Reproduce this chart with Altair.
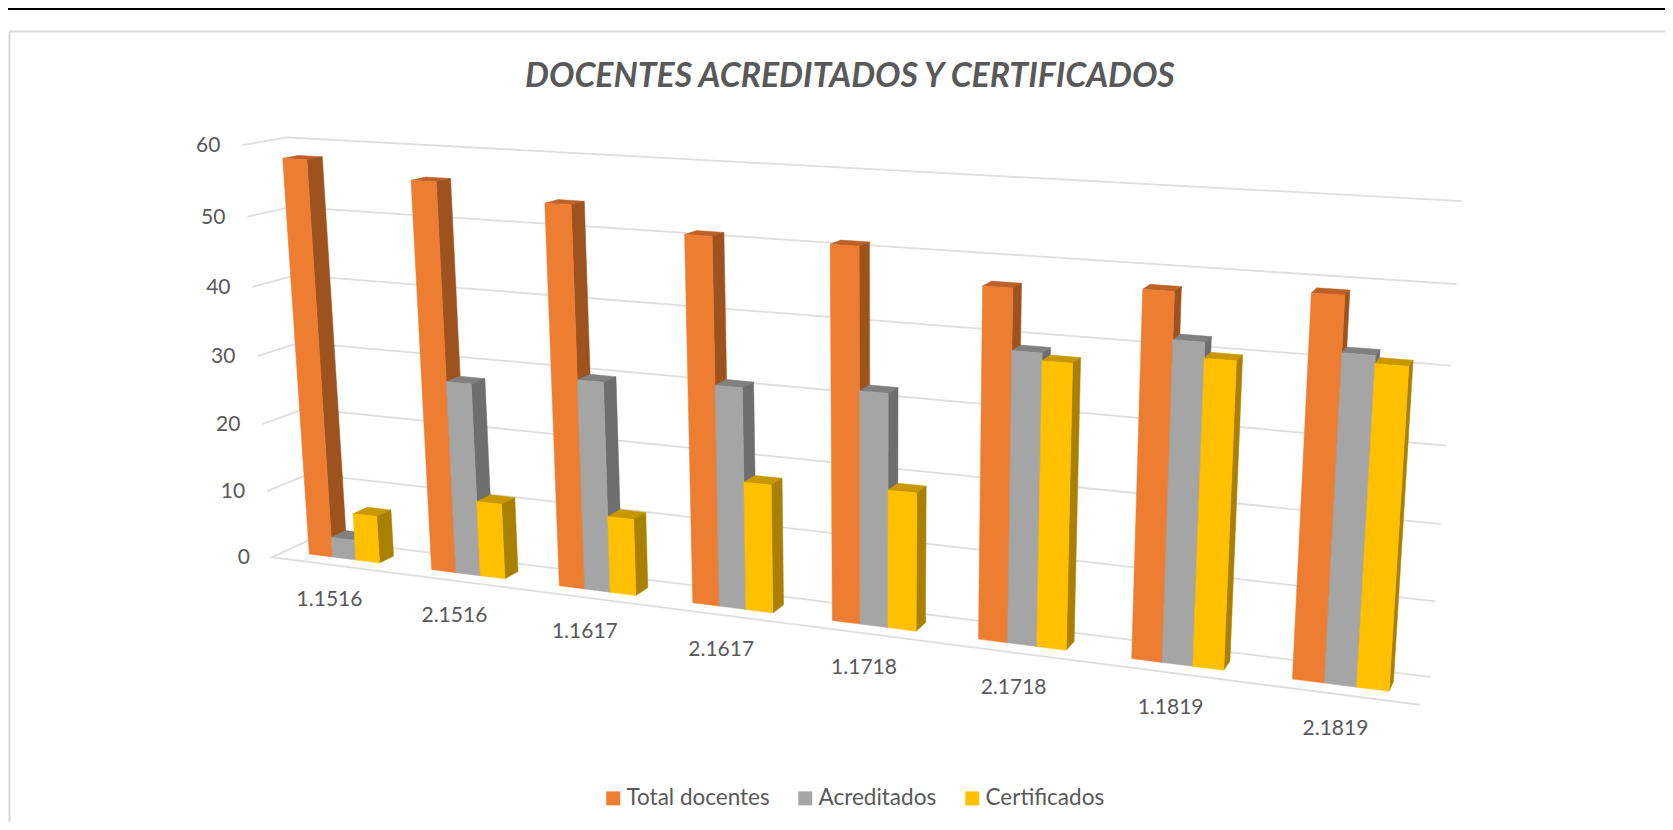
import altair as alt
import pandas as pd

titulo = "DOCENTES ACREDITADOS Y CERTIFICADOS"
periodos = ["1.1516", "2.1516", "1.1617", "2.1617", "1.1718", "2.1718", "1.1819", "2.1819"]
total = [58, 56, 54, 51, 51, 47, 48, 49]
acreditados = [3, 28, 30, 31, 32, 39, 42, 42]
certificados = [7, 11, 11, 18, 19, 38, 40, 41]
ticks = [0, 10, 20, 30, 40, 50, 60]

series = ["Total docentes", "Acreditados", "Certificados"]
valores = [total, acreditados, certificados]
front_col = ["#ED7D31", "#A5A5A5", "#FFC000"]
side_col = ["#9E531F", "#6E6E6E", "#AA8000"]
top_col = ["#BD6127", "#808080", "#C99700"]
GRID = "#DEDEDE"
TXT = "#595959"
FONT = "Lato"

BAR_W = 0.193
U_LEFT, U_RIGHT = -0.2, 7.78
D_FRONT, D_BACK = -0.9, 1.9


def project(u, d, z):
    """Perspective projection of (category position, depth, value) on the picture."""
    m, k = 0.01027, -0.000766
    X = 309.3 + 113.25 * u + d * m * 1748 + z * k * 881
    Y = 554.0 + 3.57 * u - d * m * 120 + z * k * 9064
    W = 1 - 0.02104 * u + d * m + z * k
    return X / W, Y / W


def polygon_rows(pid, corners, serie):
    pts = corners + corners[:1]
    rows = []
    for i, c in enumerate(pts):
        x, y = project(*c)
        rows.append({"pid": pid, "i": i, "x": x, "y": y, "serie": serie})
    return rows


front, side, top = [], [], []
for s, vals in enumerate(valores):
    sd, tp = [], []
    for c, v in enumerate(vals):
        u0 = c + s * BAR_W
        u1 = u0 + BAR_W
        front += polygon_rows(f"f{s}{c}", [(u0, 0, 0), (u1, 0, 0), (u1, 0, v), (u0, 0, v)], series[s])
        sd += polygon_rows(f"s{s}{c}", [(u1, 0, 0), (u1, 1, 0), (u1, 1, v), (u1, 0, v)], series[s])
        tp += polygon_rows(f"t{s}{c}", [(u0, 0, v), (u1, 0, v), (u1, 1, v), (u0, 1, v)], series[s])
    side.append(pd.DataFrame(sd))
    top.append(pd.DataFrame(tp))
front = pd.DataFrame(front)

grid_rows = []
for t in ticks:
    path = [(U_LEFT, D_FRONT, t), (U_LEFT, D_BACK, t), (U_RIGHT, D_BACK, t)]
    if t == 0:
        path = [(U_RIGHT, D_FRONT, t)] + path
    for i, c in enumerate(path):
        x, y = project(*c)
        grid_rows.append({"pid": t, "i": i, "x": x, "y": y})
grid = pd.DataFrame(grid_rows)

tick_rows = []
for t in ticks:
    x, y = project(U_LEFT, D_FRONT, t)
    tick_rows.append({"x": x - 22, "y": y + 1, "t": str(t)})
tick_df = pd.DataFrame(tick_rows)

cat_rows = []
for c, p in enumerate(periodos):
    x, y = project(c + 1.5 * BAR_W, -1, 0)
    cat_rows.append({"x": x, "y": y + 34, "t": p})
cat_df = pd.DataFrame(cat_rows)

W, H = 1657, 814
xs = alt.Scale(domain=[8, 8 + W], range=[0, W], nice=False, zero=False)
ys = alt.Scale(domain=[8, 8 + H], range=[0, H], nice=False, zero=False)
X = alt.X("x:Q", scale=xs, axis=None)
Y = alt.Y("y:Q", scale=ys, axis=None)
anchor = pd.DataFrame({"a": [0]})

layers = [
    alt.Chart(anchor).mark_rule(color="#000000", strokeWidth=2).encode(
        x=alt.value(0), x2=alt.value(W), y=alt.value(1)),
    alt.Chart(anchor).mark_rule(color="#D9D9D9", strokeWidth=2).encode(
        x=alt.value(1.5), x2=alt.value(W), y=alt.value(23.5)),
    alt.Chart(anchor).mark_rule(color="#D9D9D9", strokeWidth=2).encode(
        x=alt.value(1.5), y=alt.value(23.5), y2=alt.value(H)),
    alt.Chart(grid).mark_line(color=GRID, strokeWidth=1.8).encode(
        x=X, y=Y, detail="pid:N", order="i:Q"),
    alt.Chart(tick_df).mark_text(align="right", baseline="middle", font=FONT, fontSize=21, color=TXT).encode(
        x=X, y=Y, text="t:N"),
    alt.Chart(cat_df).mark_text(align="center", baseline="middle", font=FONT, fontSize=21, color=TXT).encode(
        x=X, y=Y, text="t:N"),
]
for s in range(3):
    for df, col in ((top[s], top_col[s]), (side[s], side_col[s])):
        layers.append(
            alt.Chart(df).mark_line(fill=col, stroke=col, strokeWidth=0.5).encode(
                x=X, y=Y, detail="pid:N", order="i:Q")
        )

color_scale = alt.Scale(domain=series, range=front_col)
layers.append(
    alt.Chart(front).mark_line(strokeWidth=0.5).encode(
        x=X,
        y=Y,
        detail="pid:N",
        order="i:Q",
        fill=alt.Fill("serie:N", scale=color_scale, sort=series, legend=alt.Legend(
            title=None, orient="none", legendX=594, legendY=779, direction="horizontal",
            symbolType="square", symbolSize=196, symbolStrokeWidth=0, labelFont=FONT,
            labelFontSize=22.5, labelColor=TXT, columnPadding=24, labelOffset=2)),
        stroke=alt.Stroke("serie:N", scale=color_scale, sort=series, legend=None),
    )
)

chart = alt.layer(*layers).properties(
    width=W,
    height=H,
    autosize=alt.AutoSizeParams(type="none"),
    padding=0,
    background="white",
    title=alt.TitleParams(
        text=titulo, anchor="start", frame="group", dx=517, offset=-86, font=FONT, fontSize=33.8,
        fontWeight="bold", fontStyle="italic", color=TXT),
).configure_view(stroke=None)

chart.save("out.html", embed_options={"renderer": "svg", "actions": False})
